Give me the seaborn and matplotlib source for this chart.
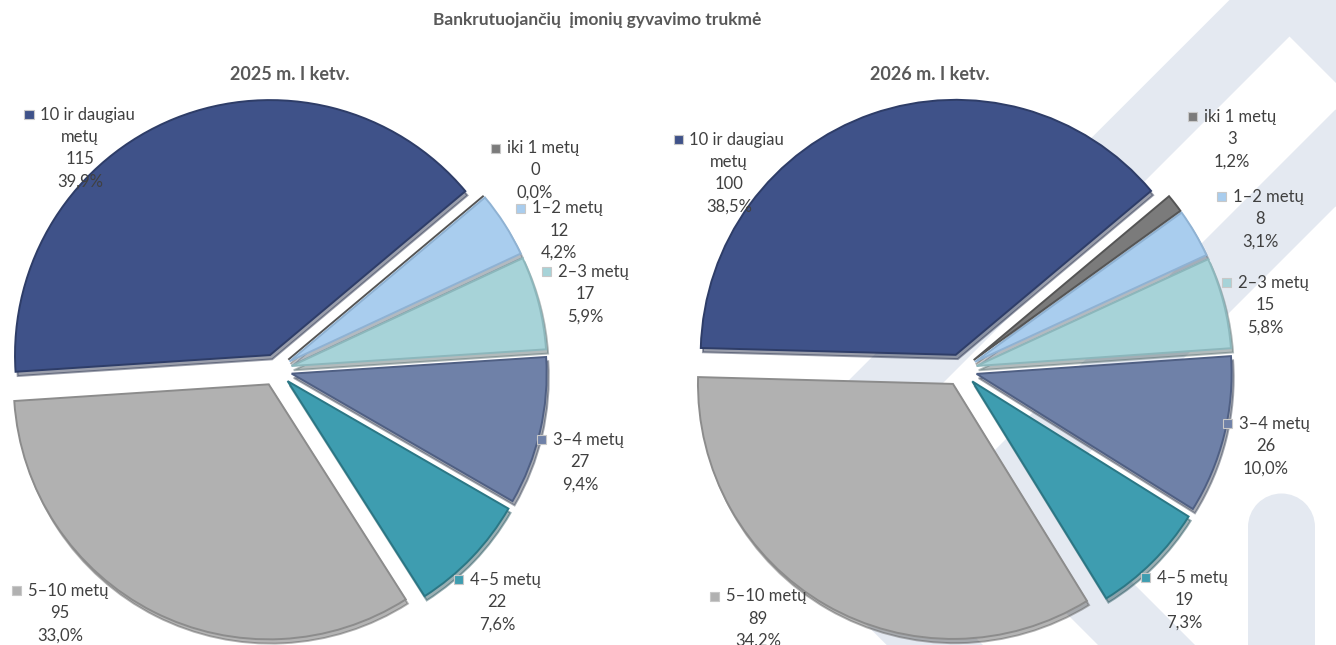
import textwrap
import matplotlib
matplotlib.use('Agg')
import matplotlib.pyplot as plt
import seaborn as sns
from matplotlib.patches import Polygon, Rectangle, Circle
from matplotlib.offsetbox import TextArea, HPacker, VPacker, DrawingArea, AnnotationBbox

# data
categories = ['iki 1 metų', '1–2 metų', '2–3 metų', '3–4 metų',
              '4–5 metų', '5–10 metų', '10 ir daugiau metų']
values_2025 = [0, 12, 17, 27, 22, 95, 115]
values_2026 = [3, 8, 15, 26, 19, 89, 100]
panel_titles = ['2025 m. I ketv.', '2026 m. I ketv.']
main_title = 'Bankrutuojančių  įmonių gyvavimo trukmė'

slice_colors = ['#7b7b7b', '#a9cdee', '#a7d3d8', '#6f81a8',
                '#3e9db0', '#b1b1b1', '#3f5289']
edge_colors = ['#555555', '#8fb2d3', '#8cb7bc', '#4f5f83',
               '#2b7785', '#8c8c8c', '#2e3d68']

# label block centres, relative to the pie centre, in pie radii
label_pos_2025 = [(1.016, 0.783), (1.110, 0.547), (1.212, 0.298), (1.192, -0.361),
                  (0.867, -0.910), (-0.847, -0.953), (-0.769, 0.871)]
label_pos_2026 = [(1.063, 0.906), (1.173, 0.592), (1.192, 0.255), (1.196, -0.298),
                  (0.875, -0.902), (-0.796, -0.975), (-0.910, 0.773)]

W, H = 1336, 645
PIE_R = 255            # pie radius in pixels
CENTRES = [(276, 370), (961, 370)]
TITLE_X = [290, 930]
TEXT_COLOR = '#404040'
BAND = '#e4e9f1'

sns.set_theme(style='white')
plt.rcParams['font.family'] = ['Lato', 'DejaVu Sans']
palette = sns.color_palette(slice_colors)

fig = plt.figure(figsize=(W / 100, H / 100), dpi=100)
fig.patch.set_facecolor('white')

# watermark in the background (pixel coordinates, y down)
bg = fig.add_axes([0, 0, 1, 1], zorder=0)
bg.set_xlim(0, W)
bg.set_ylim(H, 0)
bg.axis('off')
band_a = [(735, 494), (1289.5, -60), (1420, 70), (1420, 167), (1289.5, 36.5),
          (832, 494), (1038, 700), (942, 700)]
band_b = [(949, 496), (1335.5, 109.5), (1420, 194), (1420, 291), (1335.5, 206.5),
          (1046, 496), (1250, 700), (1153, 700)]
for pts in (band_a, band_b):
    bg.add_patch(Polygon(pts, closed=True, facecolor=BAND, edgecolor='none'))
bg.add_patch(Rectangle((1248, 527), 67, 200, facecolor=BAND, edgecolor='none'))
bg.add_patch(Circle((1281.5, 527), 33.5, facecolor=BAND, edgecolor='none'))

TXT = dict(color=TEXT_COLOR, fontsize=12)


def make_label(name, value, total, color):
    lines = textwrap.wrap(name, 13)
    pct = f'{value / total * 100:.1f}%'.replace('.', ',')
    sq = DrawingArea(6.5, 6.5, 0, 0)
    sq.add_artist(Rectangle((0, 0), 6.5, 6.5, facecolor=color,
                            edgecolor='#c8c8c8', linewidth=0.8))
    first = HPacker(children=[sq, TextArea(lines[0], textprops=TXT)],
                    sep=5, align='center', pad=0)
    rows = [first] + [TextArea(t, textprops=TXT) for t in lines[1:] + [str(value), pct]]
    return VPacker(children=rows, sep=4.5, align='center', pad=0)


for i, (values, positions) in enumerate([(values_2025, label_pos_2025),
                                         (values_2026, label_pos_2026)]):
    ax = fig.add_axes([i * 0.5, 0, 0.5, 1], zorder=1)
    ax.patch.set_alpha(0)
    wedges, _ = ax.pie(values, colors=palette, startangle=40, counterclock=False,
                       explode=[0.063] * len(values), radius=1,
                       shadow=dict(ox=0.006, oy=-0.012, shade=0.5, alpha=0.45),
                       wedgeprops=dict(linewidth=1.4))
    for w, ec in zip(wedges, edge_colors):
        w.set_edgecolor(ec)
    cx, cy = CENTRES[i]
    left_px = i * W / 2
    ax.set_xlim((left_px - cx) / PIE_R, (left_px + W / 2 - cx) / PIE_R)
    ax.set_ylim((cy - H) / PIE_R, cy / PIE_R)
    ax.set_aspect('auto')
    ax.axis('off')

    total = sum(values)
    for name, v, col, (dx, dy) in zip(categories, values, slice_colors, positions):
        box = make_label(name, v, total, col)
        ab = AnnotationBbox(box, (dx, dy), xycoords='data', frameon=False,
                            box_alignment=(0.5, 0.5), pad=0, annotation_clip=False)
        ax.add_artist(ab)

    fig.text(TITLE_X[i] / W, 1 - 75 / H, panel_titles[i], ha='center', va='center',
             fontsize=13, fontweight='bold', color='#595959')

fig.text(597 / W, 1 - 20 / H, main_title, ha='center', va='center',
         fontsize=12.5, fontweight='bold', color='#595959')

fig.savefig('out.png', dpi=100, facecolor='white')
